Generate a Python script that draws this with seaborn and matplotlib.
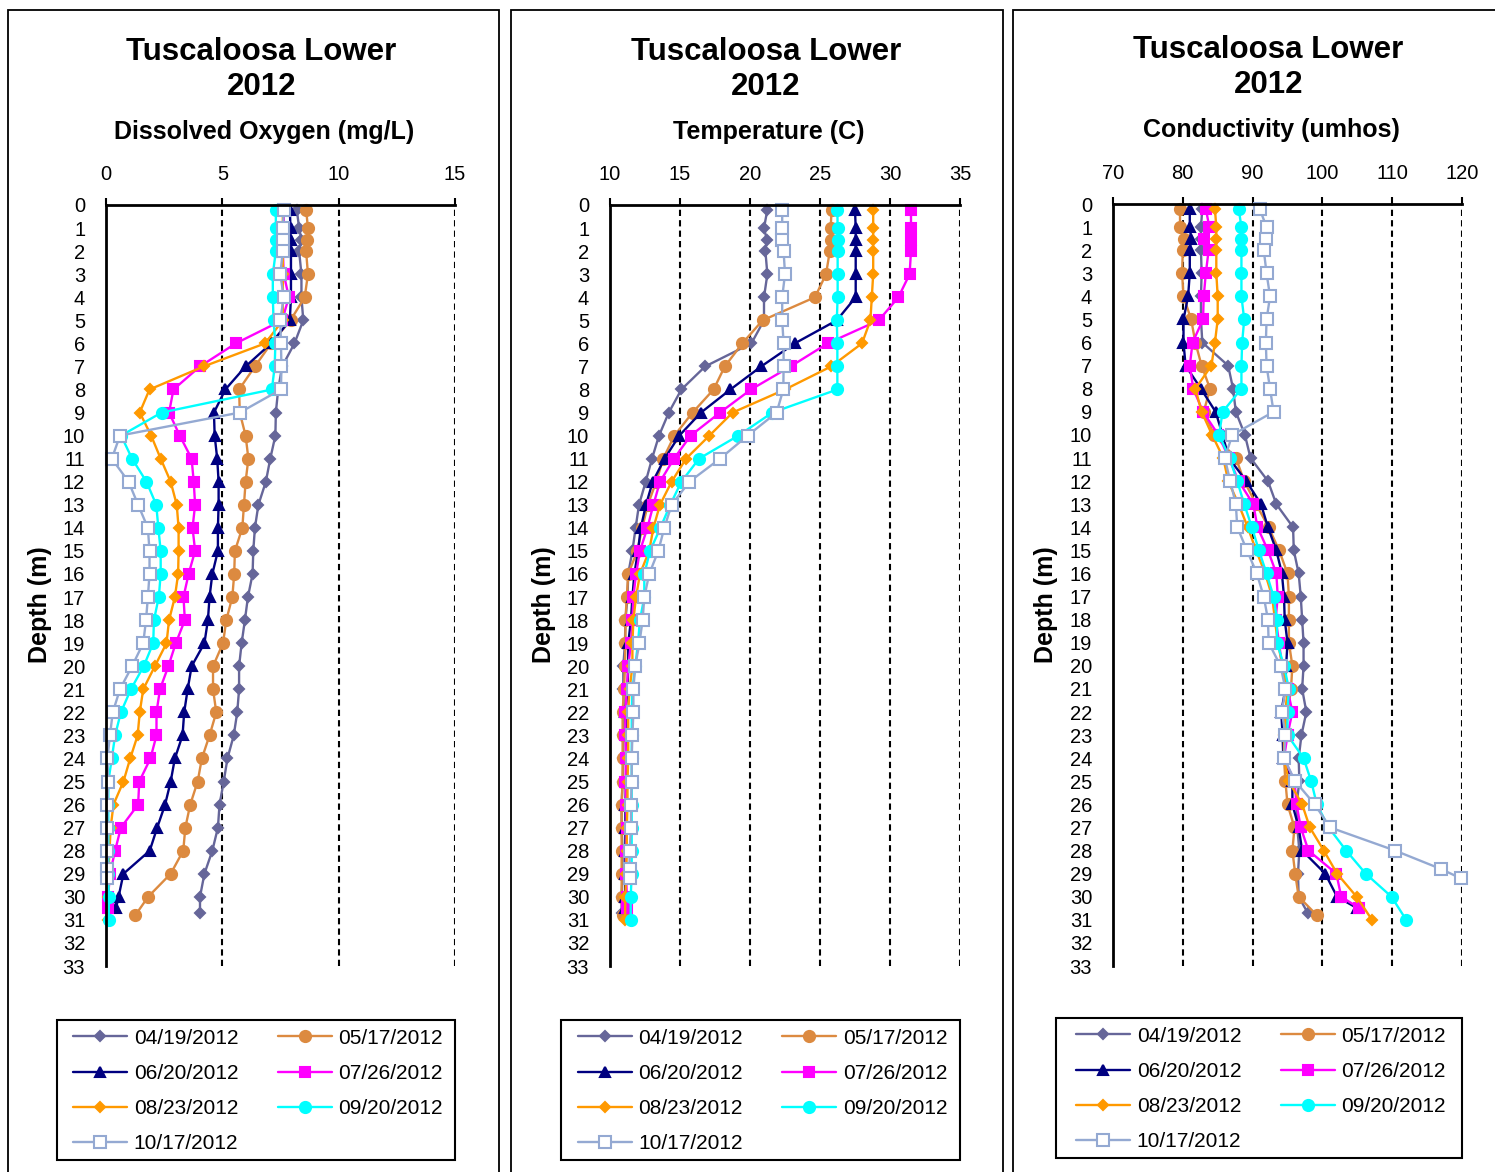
import matplotlib
matplotlib.use("Agg")
import matplotlib.pyplot as plt
import seaborn as sns
from matplotlib.patches import Rectangle

sns.set_style("white")
plt.rcParams['font.family'] = ['Liberation Sans', 'DejaVu Sans']
plt.rcParams['text.color'] = 'black'
plt.rcParams['xtick.color'] = 'black'
plt.rcParams['ytick.color'] = 'black'

# ---------------- data ----------------
dates = ["04/19/2012", "05/17/2012", "06/20/2012", "07/26/2012",
         "08/23/2012", "09/20/2012", "10/17/2012"]

depth_0419 = [0.2, 1, 1.5, 2, 3, 4, 5, 6, 7, 8, 9, 10, 11, 12, 13, 14, 15, 16, 17, 18, 19, 20,
              21, 22, 23, 24, 25, 26, 27, 28, 29, 30, 30.7]
depth_0517 = [0.2, 1, 1.5, 2, 3, 4, 5, 6, 7, 8, 9, 10, 11, 12, 13, 14, 15, 16, 17, 18, 19, 20,
              21, 22, 23, 24, 25, 26, 27, 28, 29, 30, 30.8]
depth_0620 = [0.2, 1, 1.5, 2, 3, 4, 5, 6, 7, 8, 9, 10, 11, 12, 13, 14, 15, 16, 17, 18, 19, 20,
              21, 22, 23, 24, 25, 26, 27, 28, 29, 30, 30.5]
depth_0726 = [0.2, 1, 1.5, 2, 3, 4, 5, 6, 7, 8, 9, 10, 11, 12, 13, 14, 15, 16, 17, 18, 19, 20,
              21, 22, 23, 24, 25, 26, 27, 28, 29, 30, 30.5]
depth_0823 = [0.2, 1, 1.5, 2, 3, 4, 5, 6, 7, 8, 9, 10, 11, 12, 13, 14, 15, 16, 17, 18, 19, 20,
              21, 22, 23, 24, 25, 26, 27, 28, 29, 30, 31]
depth_0920 = [0.2, 1, 1.5, 2, 3, 4, 5, 6, 7, 8, 9, 10, 11, 12, 13, 14, 15, 16, 17, 18, 19, 20,
              21, 22, 23, 24, 25, 26, 27, 28, 29, 30, 31]
depth_1017 = [0.2, 1, 1.5, 2, 3, 4, 5, 6, 7, 8, 9, 10, 11, 12, 13, 14, 15, 16, 17, 18, 19, 20,
              21, 22, 23, 24, 25, 26, 27, 28, 28.8, 29.2]

# Dissolved oxygen (mg/L)
do_0419 = [8.2, 8.3, 8.4, 8.3, 8.4, 8.4, 8.48, 8.1, 7.57, 7.4, 7.3, 7.28, 7.06, 6.87, 6.55, 6.4,
           6.33, 6.3, 6.1, 5.97, 5.83, 5.72, 5.72, 5.64, 5.49, 5.22, 5.06, 4.88, 4.81, 4.57,
           4.23, 4.04, 4.04]
do_0517 = [8.6, 8.68, 8.65, 8.6, 8.68, 8.54, 7.93, 7.1, 6.4, 5.72, 5.75, 6.0, 6.12, 6.0, 5.93,
           5.86, 5.54, 5.51, 5.43, 5.17, 5.03, 4.6, 4.6, 4.74, 4.45, 4.12, 3.94, 3.62, 3.41,
           3.32, 2.78, 1.81, 1.26]
do_0620 = [7.9, 7.93, 7.93, 7.95, 7.95, 7.95, 7.9, 7.1, 6.0, 5.13, 4.64, 4.67, 4.78, 4.84, 4.84,
           4.81, 4.81, 4.57, 4.45, 4.38, 4.23, 3.68, 3.51, 3.36, 3.29, 2.96, 2.78, 2.54, 2.2,
           1.88, 0.75, 0.54, 0.43]
do_0726 = [7.64, 7.64, 7.6, 7.6, 7.64, 7.86, 7.57, 5.58, 4.04, 2.9, 2.71, 3.17, 3.68, 3.77, 3.83,
           3.72, 3.83, 3.55, 3.33, 3.39, 3.0, 2.68, 2.32, 2.17, 2.17, 1.91, 1.43, 1.38, 0.64,
           0.39, 0.17, 0.09, 0.1]
do_0823 = [7.6, 7.6, 7.6, 7.6, 7.6, 7.6, 7.6, 6.84, 4.2, 1.87, 1.45, 1.94, 2.35, 2.78, 3.04,
           3.12, 3.12, 3.1, 2.96, 2.71, 2.6, 2.1, 1.6, 1.45, 1.36, 1.04, 0.75, 0.32, 0.2, 0.15,
           0.1, 0.1, 0.1]
do_0920 = [7.3, 7.3, 7.3, 7.3, 7.17, 7.17, 7.2, 7.28, 7.25, 7.13, 2.39, 0.65, 1.12, 1.74, 2.16,
           2.25, 2.35, 2.35, 2.27, 2.06, 2.03, 1.62, 1.07, 0.64, 0.39, 0.25, 0.1, 0.1, 0.1, 0.1,
           0.1, 0.12, 0.12]
do_1017 = [7.64, 7.6, 7.6, 7.6, 7.49, 7.64, 7.49, 7.52, 7.54, 7.52, 5.75, 0.6, 0.25, 0.97, 1.38,
           1.8, 1.87, 1.87, 1.8, 1.72, 1.6, 1.12, 0.6, 0.29, 0.17, 0.06, 0.1, 0.06, 0.06, 0.06,
           0.06, 0.06]

# Temperature (C)
temp_0419 = [21.24, 21.0, 21.2, 21.1, 21.24, 21.0, 21.0, 20.1, 16.8, 15.1, 14.2, 13.5, 13.0,
             12.55, 12.07, 11.83, 11.6, 11.3, 11.25, 11.1, 11.07, 10.95, 10.95, 11.0, 10.95,
             10.95, 10.9, 10.83, 10.83, 10.9, 10.9, 10.83, 10.83]
temp_0517 = [25.83, 25.76, 25.76, 25.7, 25.43, 24.64, 20.9, 19.45, 18.2, 17.4, 15.9, 14.6, 13.8,
             13.3, 12.7, 12.3, 11.95, 11.3, 11.2, 11.1, 11.1, 11.07, 11.0, 10.9, 10.9, 10.9,
             10.9, 10.83, 10.83, 10.83, 10.83, 10.83, 10.9]
temp_0620 = [27.5, 27.55, 27.55, 27.55, 27.55, 27.55, 26.2, 23.2, 20.8, 18.6, 16.5, 14.95, 13.9,
             13.05, 12.57, 12.2, 12.0, 11.74, 11.6, 11.5, 11.3, 11.3, 11.26, 11.1, 11.2, 11.2,
             11.15, 11.1, 11.1, 11.1, 11.1, 11.07, 11.1]
temp_0726 = [31.5, 31.5, 31.5, 31.5, 31.4, 30.6, 29.2, 25.55, 22.9, 20.07, 17.86, 15.76, 14.57,
             13.57, 13.1, 12.67, 12.14, 11.86, 11.67, 11.6, 11.5, 11.3, 11.2, 11.1, 11.1, 11.15,
             11.1, 11.15, 11.2, 11.15, 11.15, 11.2, 11.2]
temp_0823 = [28.8, 28.8, 28.8, 28.8, 28.8, 28.7, 28.6, 28.0, 25.8, 22.5, 18.76, 17.1, 15.43,
             14.4, 13.57, 13.1, 12.8, 12.14, 11.86, 11.67, 11.6, 11.6, 11.4, 11.3, 11.3, 11.3,
             11.25, 11.25, 11.2, 11.2, 11.15, 11.1, 11.07]
temp_0920 = [26.24, 26.26, 26.26, 26.26, 26.26, 26.26, 26.2, 26.24, 26.24, 26.24, 21.6, 19.17,
             16.36, 15.1, 14.3, 13.6, 12.86, 12.45, 12.45, 12.14, 12.0, 11.8, 11.6, 11.55,
             11.55, 11.55, 11.55, 11.55, 11.55, 11.55, 11.55, 11.48, 11.48]
temp_1017 = [22.3, 22.3, 22.3, 22.4, 22.5, 22.3, 22.3, 22.4, 22.4, 22.38, 21.9, 19.83, 17.86,
             15.67, 14.4, 13.88, 13.45, 12.8, 12.45, 12.33, 12.1, 11.8, 11.67, 11.67, 11.6,
             11.55, 11.55, 11.5, 11.5, 11.4, 11.4, 11.4]

# Conductivity (umhos)
cond_0419 = [82.8, 82.6, 82.6, 82.6, 82.7, 82.6, 82.6, 82.8, 86.5, 87.2, 87.6, 88.9, 89.7, 92.2,
             93.4, 95.8, 95.9, 96.6, 96.9, 97.1, 97.3, 97.3, 97.1, 97.7, 97.0, 96.6, 96.7,
             96.3, 96.4, 96.7, 96.5, 96.6, 97.9]
cond_0517 = [79.6, 79.6, 80.2, 80.0, 79.9, 80.1, 81.2, 81.8, 82.7, 83.9, 83.0, 84.5, 87.6, 88.8,
             90.5, 92.3, 93.8, 95.0, 95.2, 95.2, 95.2, 95.7, 95.5, 95.0, 94.8, 94.5, 94.7,
             95.0, 96.0, 95.7, 96.1, 96.6, 99.2]
cond_0620 = [81.0, 81.0, 81.2, 81.0, 81.0, 80.76, 80.1, 80.1, 80.4, 82.6, 84.7, 85.7, 86.6, 89.1,
             91.2, 92.2, 93.4, 94.2, 94.5, 94.6, 95.0, 94.8, 94.7, 94.1, 94.3, 94.4, 95.7,
             95.7, 96.6, 97.1, 100.4, 102.1, 105.0]
cond_0726 = [83.3, 83.8, 83.0, 83.7, 83.3, 83.0, 82.9, 81.4, 81.0, 81.5, 82.9, 85.1, 86.6, 88.0,
             90.1, 90.7, 92.2, 93.4, 93.6, 93.3, 93.8, 94.2, 95.0, 95.7, 95.0, 94.5, 96.0,
             96.3, 96.9, 98.0, 102.0, 102.7, 105.3]
cond_0823 = [84.6, 84.8, 84.8, 84.8, 84.8, 85.0, 85.0, 84.6, 84.1, 81.8, 82.7, 84.2, 85.8, 86.5,
             88.0, 89.3, 90.5, 91.8, 92.8, 93.2, 93.6, 94.3, 95.0, 94.7, 94.5, 94.5, 95.2,
             97.1, 98.2, 100.2, 102.1, 104.9, 107.1]
cond_0920 = [88.0, 88.4, 88.4, 88.4, 88.4, 88.4, 88.8, 88.5, 88.4, 88.4, 85.7, 85.2, 86.7, 87.8,
             88.8, 89.9, 90.9, 92.0, 93.0, 93.5, 93.5, 94.5, 95.2, 95.0, 95.0, 97.3, 98.4,
             99.2, 100.9, 103.4, 106.2, 109.9, 112.0]
cond_1017 = [91.0, 92.0, 91.9, 91.6, 92.0, 92.5, 92.0, 91.9, 92.0, 92.5, 93.0, 87.1, 86.0, 86.8,
             87.6, 87.8, 89.2, 90.6, 91.6, 92.2, 92.3, 94.0, 94.7, 94.2, 94.7, 94.5, 96.1,
             98.9, 101.1, 110.4, 117.0, 119.8]

depths = [depth_0419, depth_0517, depth_0620, depth_0726, depth_0823, depth_0920, depth_1017]
do_vals = [do_0419, do_0517, do_0620, do_0726, do_0823, do_0920, do_1017]
temp_vals = [temp_0419, temp_0517, temp_0620, temp_0726, temp_0823, temp_0920, temp_1017]
cond_vals = [cond_0419, cond_0517, cond_0620, cond_0726, cond_0823, cond_0920, cond_1017]

y_ticks = list(range(0, 34))
do_ticks = [0, 5, 10, 15]
temp_ticks = [10, 15, 20, 25, 30, 35]
cond_ticks = [70, 80, 90, 100, 110, 120]

# ---------------- styles ----------------
styles = [
    dict(color="#666699", marker="D", ms=5.5, mfc="#666699", mec="#666699"),
    dict(color="#DC8A40", marker="o", ms=8.0, mfc="#DC8A40", mec="#DC8A40"),
    dict(color="#000080", marker="^", ms=7.5, mfc="#000080", mec="#000080"),
    dict(color="#FF00FF", marker="s", ms=7.5, mfc="#FF00FF", mec="#FF00FF"),
    dict(color="#FF9900", marker="D", ms=5.5, mfc="#FF9900", mec="#FF9900"),
    dict(color="#00FFFF", marker="o", ms=8.0, mfc="#00FFFF", mec="#00FFFF"),
    dict(color="#94A9D2", marker="s", ms=8.5, mfc="white", mec="#94A9D2"),
]

W, H = 1495, 1172
fig = plt.figure(figsize=(W / 100, H / 100), dpi=100)


def fx(p):
    return p / W


def fy(p):
    return 1 - p / H


panels = [
    dict(l=106, r=455, t=205, xlim=(0, 15), ticks=do_ticks, vals=do_vals, dy=0,
         sub="Dissolved Oxygen (mg/L)", frame=(8, 499), leg=(57, 455, 1020, 1160), ylx=40),
    dict(l=610, r=960, t=205, xlim=(10, 35), ticks=temp_ticks, vals=temp_vals, dy=0,
         sub="Temperature (C)", frame=(511, 1003), leg=(561, 960, 1020, 1160), ylx=544),
    dict(l=1113, r=1462, t=204, xlim=(70, 120), ticks=cond_ticks, vals=cond_vals, dy=-2,
         sub="Conductivity (umhos)", frame=(1013, 1510), leg=(1056, 1462, 1018, 1158), ylx=1046),
]

bottom_px = 966
for p in panels:
    # panel frame
    fig.add_artist(Rectangle((fx(p["frame"][0]), -0.02), fx(p["frame"][1]) - fx(p["frame"][0]),
                             fy(10) + 0.02, transform=fig.transFigure, fill=False,
                             edgecolor="black", linewidth=1.3))
    ax = fig.add_axes([fx(p["l"]), fy(bottom_px), fx(p["r"]) - fx(p["l"]),
                       fy(p["t"]) - fy(bottom_px)])
    ax.set_facecolor("none")
    for i, (d, v) in enumerate(zip(depths, p["vals"])):
        s = styles[i]
        sns.lineplot(x=v, y=d, sort=False, estimator=None, ax=ax, legend=False,
                     color=s["color"], linewidth=1.7, marker=s["marker"],
                     markersize=s["ms"], markerfacecolor=s["mfc"],
                     markeredgecolor=s["mec"], markeredgewidth=1.5,
                     label=dates[i], clip_on=False, zorder=3 + i)
    ax.set_xlim(*p["xlim"])
    ax.set_ylim(33, 0)
    ax.set_xticks(p["ticks"])
    ax.set_yticks(y_ticks)
    ax.xaxis.tick_top()
    ax.set_xlabel("")
    ax.set_ylabel("")
    ax.grid(False)
    for xv in p["ticks"][1:]:
        ax.axvline(xv, color="black", linestyle=(0, (3, 2)), linewidth=1.5, zorder=1)
    for sp in ["right", "bottom"]:
        ax.spines[sp].set_visible(False)
    for sp in ["top", "left"]:
        ax.spines[sp].set_color("black")
        ax.spines[sp].set_linewidth(2.0)
        ax.spines[sp].set_zorder(20)
    ax.tick_params(axis="y", direction="out", length=6, width=1.5, labelsize=14.5,
                   pad=9, colors="black")
    ax.tick_params(axis="x", direction="out", length=5, width=1.5, labelsize=14.5,
                   pad=10, colors="black")

    cx = (p["l"] + p["r"]) / 2 - 19
    fig.text(fx(cx), fy(52 + p["dy"]), "Tuscaloosa Lower", ha="center", va="center",
             fontsize=22.5, fontweight="bold")
    fig.text(fx(cx), fy(87 + p["dy"]), "2012", ha="center", va="center",
             fontsize=22.5, fontweight="bold")
    fig.text(fx(cx + 3), fy(132 + p["dy"]), p["sub"], ha="center", va="center",
             fontsize=18, fontweight="bold")
    fig.text(fx(p["ylx"]), fy(605), "Depth (m)", ha="center", va="center", rotation=90,
             fontsize=18, fontweight="bold")

    # legend, row-wise order, with its own frame
    handles, labels = ax.get_legend_handles_labels()
    order = [0, 2, 4, 6, 1, 3, 5]
    l0, r0, t0, b0 = p["leg"]
    fig.add_artist(Rectangle((fx(l0), fy(b0)), fx(r0) - fx(l0), fy(t0) - fy(b0),
                             transform=fig.transFigure, fill=False, edgecolor="black",
                             linewidth=1.5))
    ax.legend([handles[k] for k in order], [labels[k] for k in order], ncol=2,
              loc="center", bbox_to_anchor=(fx((l0 + r0) / 2 + 2), fy((t0 + b0) / 2 + 1)),
              bbox_transform=fig.transFigure, fontsize=15, frameon=False,
              handlelength=2.6, handletextpad=0.3, columnspacing=1.9,
              labelspacing=0.78, borderpad=0.0, borderaxespad=0)

fig.savefig("out.png", dpi=100)
